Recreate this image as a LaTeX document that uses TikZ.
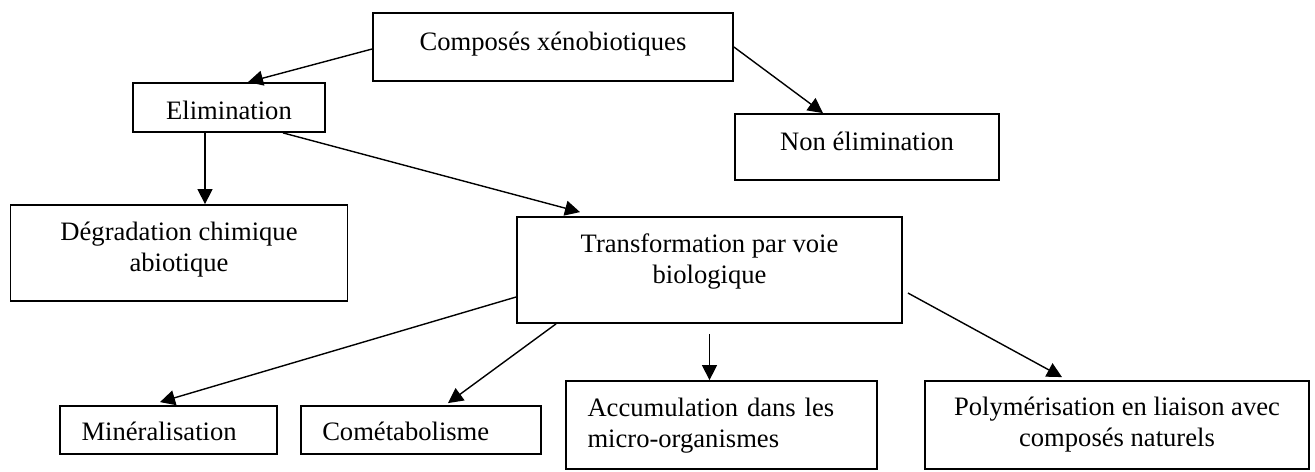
\documentclass[tikz,border=0pt]{standalone}
\usepackage{fontspec}
\setmainfont{Liberation Serif}
\usetikzlibrary{arrows.meta,calc}

\begin{document}
\begin{tikzpicture}[
    x=0.5pt, y=-0.5pt,
    >={Triangle[length=7.5pt,width=7.5pt]},
    box/.style={draw, line width=0.9pt, inner ysep=0pt, align=center, font=\fontsize{13.3pt}{15.5pt}\selectfont},
    lbox/.style={box, align=left, inner xsep=10.75pt},
    arr/.style={->, line width=0.7pt}
]
\useasboundingbox (0,0) rectangle (1315,471);
\node[box, minimum width=180pt, text height=18.5pt, text depth=15.5pt] (comp) at (553,47) {Composés xénobiotiques};
\node[box, minimum width=96pt, text height=18pt, text depth=6.5pt] (elim) at (229,107.5) {Elimination};
\node[box, minimum width=132pt, text height=18pt, text depth=15pt] (nonelim) at (867,147) {Non élimination};
\node[box, minimum width=168.5pt, text height=33pt, text depth=15pt] (degr) at (179,253) {Dégradation chimique\\abiotique};
\node[box, minimum width=192.5pt, text height=33pt, text depth=20pt] (trans) at (709.5,270) {Transformation par voie\\biologique};
\node[lbox, text width=87pt, text height=17pt, text depth=7pt] (miner) at (168.5,430) {Minéralisation};
\node[lbox, text width=98.75pt, text height=17pt, text depth=7pt] (comet) at (421,430) {Cométabolisme};
\node[lbox, text width=134pt, text height=17.5pt, text depth=26.5pt] (accum) at (721.5,425) {Accumulation dans les\\micro-organismes};
\node[box, minimum width=192pt, text height=32.75pt, text depth=11.25pt] (polym) at (1117,425) {Polymérisation en liaison avec\\composés naturels};

\draw[arr] ($(comp.west)+(0,2)$) -- ($(elim.north)+(19,0)$);
\draw[arr] (comp.east) -- ($(nonelim.north)+(-44,0)$);
\draw[arr] ($(elim.south)+(-24,0)$) -- ($(degr.north)+(26,0)$);
\draw[arr] ($(elim.south)+(54,0)$) -- ($(trans.north)+(-129.5,-4)$);
\draw[arr] ($(trans.west)+(0,27)$) -- ($(miner.north)+(-8.5,-3)$);
\draw[arr] ($(trans.south)+(-153.5,0)$) -- ($(comet.north)+(27,-2)$);
\draw[arr] ($(trans.south)+(0,10)$) -- ($(accum.north)+(-12,0)$);
\draw[arr] ($(trans.east)+(5,23)$) -- ($(polym.north)+(-55,-3)$);
\end{tikzpicture}
\end{document}
